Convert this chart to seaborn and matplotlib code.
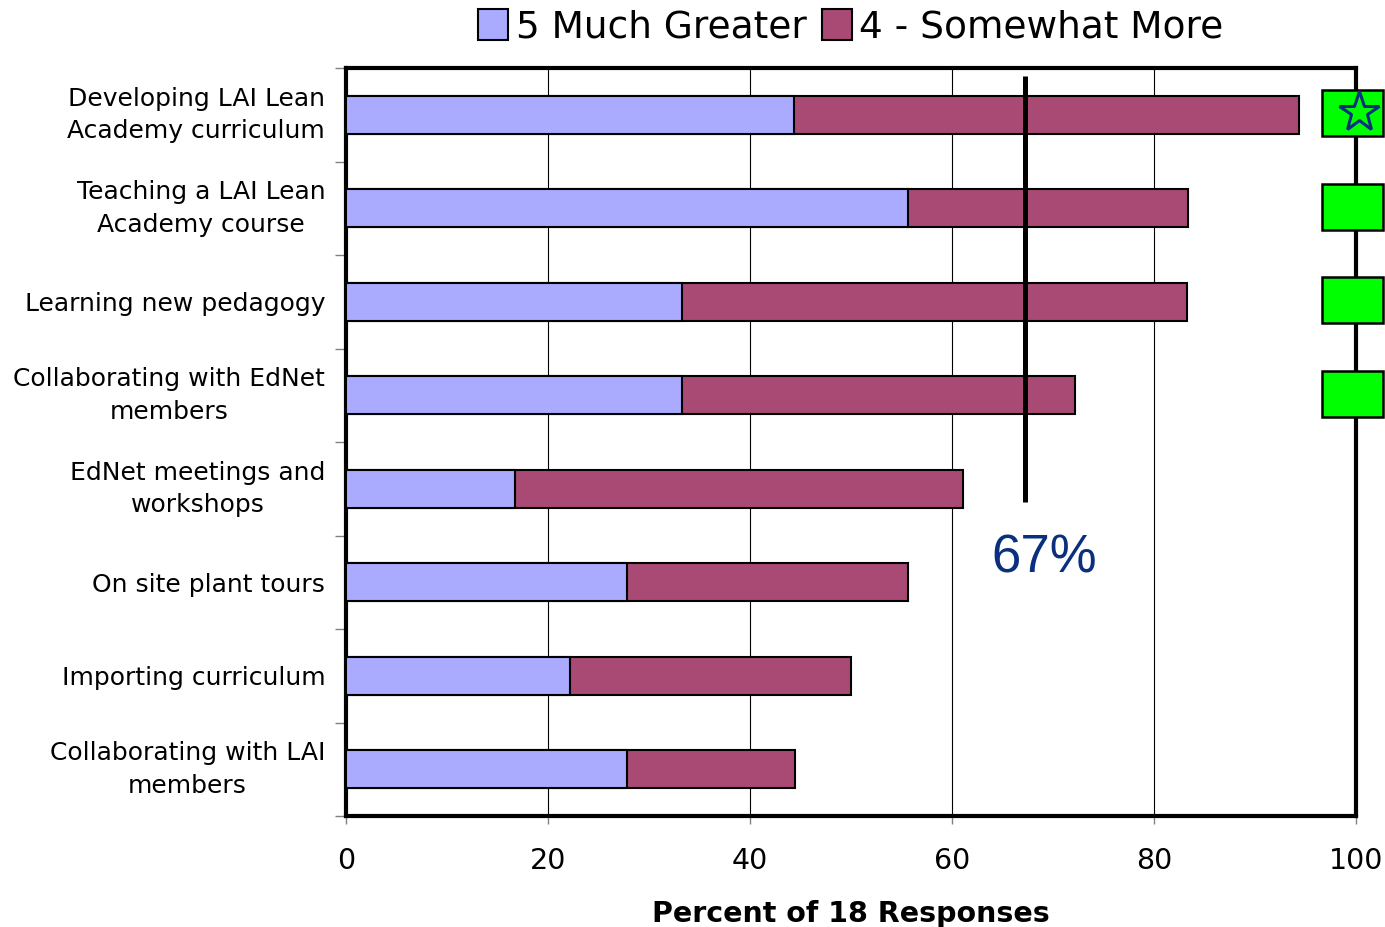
import matplotlib
matplotlib.use("Agg")
import matplotlib.pyplot as plt
import seaborn as sns
import pandas as pd
from matplotlib.patches import Patch, Rectangle

categories = [
    "Developing LAI Lean\nAcademy curriculum",
    "Teaching a LAI Lean\nAcademy course",
    "Learning new pedagogy",
    "Collaborating with EdNet\nmembers",
    "EdNet meetings and\nworkshops",
    "On site plant tours",
    "Importing curriculum",
    "Collaborating with LAI\nmembers",
]
much_greater = [44.4, 55.6, 33.3, 33.3, 16.7, 27.8, 22.2, 27.8]
somewhat_more = [50.0, 27.8, 50.0, 38.9, 44.4, 27.8, 27.8, 16.7]
series_names = ["5 Much Greater", "4 - Somewhat More"]
flagged_rows = [0, 1, 2, 3]
threshold = 67.2
threshold_label = "67%"

c_greater = "#aaaaff"
c_more = "#a94a74"
c_green = "#00ff00"

df = pd.DataFrame({"cat": categories, "greater": much_greater, "more": somewhat_more})
df["total"] = df["greater"] + df["more"]

sns.set_style("white")
plt.rcParams["font.family"] = ["DejaVu Sans"]
plt.rcParams["text.color"] = "black"
plt.rcParams["xtick.color"] = "black"
plt.rcParams["ytick.color"] = "black"
plt.rcParams["axes.labelcolor"] = "black"

fig = plt.figure(figsize=(13.85, 9.27), dpi=100)
ax = fig.add_axes([0.2498, 0.1197, 0.7292, 0.8069])

sns.barplot(data=df, x="total", y="cat", color=c_more, saturation=1, width=0.41,
            edgecolor="black", linewidth=1.5, ax=ax, zorder=3)
sns.barplot(data=df, x="greater", y="cat", color=c_greater, saturation=1, width=0.41,
            edgecolor="black", linewidth=1.5, ax=ax, zorder=4)

ax.set_xlim(0, 100)
ax.set_ylim(7.5, -0.5)
ax.set_xticks([0, 20, 40, 60, 80, 100])
ax.grid(axis="x", color="black", linewidth=0.8, zorder=0)
ax.set_axisbelow(True)

for s in ax.spines.values():
    s.set_linewidth(3)
    s.set_color("black")

ax.tick_params(axis="y", which="major", left=True, length=0, pad=15, labelsize=18)
ax.set_yticks([i + 0.5 for i in range(-1, 8)], minor=True)
ax.tick_params(axis="y", which="minor", left=True, length=8, width=1, color="gray",
               direction="out")
ax.tick_params(axis="x", which="major", bottom=True, length=6, width=1, color="gray",
               direction="out", labelsize=20.5, pad=16)
for lbl in ax.get_yticklabels():
    lbl.set_multialignment("center")
    lbl.set_linespacing(1.45)
    if "\n" in lbl.get_text():
        lbl.set_verticalalignment("center")

ax.set_ylabel("")
ax.set_xlabel("Percent of 18 Responses", fontsize=20.5, fontweight="bold", labelpad=18)

# threshold line and label
ax.plot([threshold, threshold], [-0.41, 4.14], color="black", linewidth=3.6, zorder=6,
        solid_capstyle="butt")
ax.text(threshold + 1.9, 4.75, threshold_label, color="#0a2f7f", fontsize=38,
        family=["Liberation Sans", "DejaVu Sans"], ha="center", va="center", zorder=6)

# green flags on the right edge
for r in flagged_rows:
    box = Rectangle((96.6, r - 0.26), 6.1, 0.49, facecolor=c_green, edgecolor="black",
                    linewidth=1.8, clip_on=False, zorder=10)
    ax.add_patch(box)
ax.plot([100.3], [flagged_rows[0] - 0.03], marker="*", markersize=30, markerfacecolor=c_green,
        markeredgecolor="#0a2f7f", markeredgewidth=2.2, clip_on=False, zorder=11)

handles = [Patch(facecolor=c_greater, edgecolor="black", linewidth=1.5),
           Patch(facecolor=c_more, edgecolor="black", linewidth=1.5)]
ax.legend(handles, series_names, loc="lower center", bbox_to_anchor=(0.5, 1.03), ncol=2,
          frameon=False, fontsize=27, handlelength=0.8, handleheight=0.9,
          handletextpad=0.2, columnspacing=0.4, borderaxespad=0, borderpad=0)

fig.savefig("out.png", dpi=100)
